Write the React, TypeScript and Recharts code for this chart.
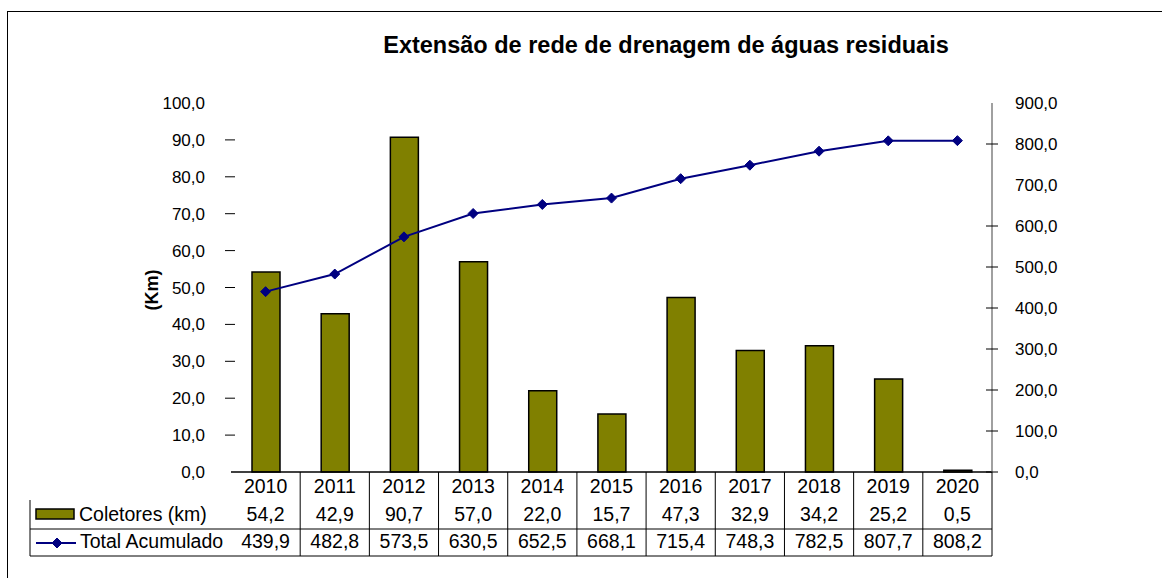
import React from "react";
import { ComposedChart, Bar, Line, XAxis, YAxis } from "recharts";

const years = ["2010", "2011", "2012", "2013", "2014", "2015", "2016", "2017", "2018", "2019", "2020"];
const coletores = [54.2, 42.9, 90.7, 57.0, 22.0, 15.7, 47.3, 32.9, 34.2, 25.2, 0.5];
const totalAcumulado = [439.9, 482.8, 573.5, 630.5, 652.5, 668.1, 715.4, 748.3, 782.5, 807.7, 808.2];
const leftTicks = [0, 10, 20, 30, 40, 50, 60, 70, 80, 90, 100];
const rightTicks = [0, 100, 200, 300, 400, 500, 600, 700, 800, 900];
const seriesNames = ["Coletores (km)", "Total Acumulado"];
const title = "Extensão de rede de drenagem de águas residuais";
const yLabel = "(Km)";

const data = years.map((y, i) => ({ year: y, coletores: coletores[i], total: totalAcumulado[i] }));

const W = 1162;
const H = 578;
const FONT = "'Liberation Sans', Arial, sans-serif";
const MARGIN = { top: 103, right: 70, bottom: 16, left: 171 };
const LEFT_AXIS_W = 60;
const RIGHT_AXIS_W = 100;
const PLOT_LEFT = MARGIN.left + LEFT_AXIS_W;
const PLOT_RIGHT = W - MARGIN.right - RIGHT_AXIS_W;
const PLOT_W = PLOT_RIGHT - PLOT_LEFT;
const TABLE_LEFT = 30;
const OLIVE = "#808000";
const NAVY = "#000080";
const TABLE_FS = 19.5;
const AXIS_FS = 17;

const fmt = (v: number) => v.toFixed(1).replace(".", ",");

const Diamond = ({ cx, cy, r = 5 }: any) =>
  cx == null || cy == null ? null : (
    <polygon
      points={`${cx},${cy - r} ${cx + r},${cy} ${cx},${cy + r} ${cx - r},${cy}`}
      fill={NAVY}
      stroke={NAVY}
    />
  );

const TableTick = (props: any) => {
  const { x, y, payload } = props;
  const i = payload.index;
  const n = years.length;
  const band = PLOT_W / n;
  const left = x - band / 2;
  const right = x + band / 2;
  const ts = { fontSize: TABLE_FS, fontFamily: FONT, fill: "#000", textAnchor: "middle" as const };
  return (
    <g>
      <text x={x} y={y + 21} {...ts}>{years[i]}</text>
      <text x={x} y={y + 49} {...ts}>{fmt(coletores[i])}</text>
      <text x={x} y={y + 76} {...ts}>{fmt(totalAcumulado[i])}</text>
      {i > 0 && <line x1={left} x2={left} y1={y} y2={y + 84} stroke="#000" strokeWidth={1} />}
      {i === n - 1 && <line x1={right} x2={right} y1={y} y2={y + 84} stroke="#000" strokeWidth={1} />}
      {i === 0 && (
        <g>
          <line x1={TABLE_LEFT} x2={PLOT_RIGHT} y1={y + 57} y2={y + 57} stroke="#000" />
          <line x1={TABLE_LEFT} x2={PLOT_RIGHT} y1={y + 84} y2={y + 84} stroke="#000" />
          <line x1={TABLE_LEFT} x2={TABLE_LEFT} y1={y + 28} y2={y + 84} stroke="#000" />
          <rect x={36} y={y + 37} width={38} height={10} fill={OLIVE} stroke="#000" strokeWidth={1.5} />
          <text x={79} y={y + 49} fontSize={TABLE_FS} fontFamily={FONT} fill="#000">{seriesNames[0]}</text>
          <line x1={36} x2={76} y1={y + 71} y2={y + 71} stroke={NAVY} strokeWidth={2} />
          <Diamond cx={57} cy={y + 71} r={5} />
          <text x={80} y={y + 76} fontSize={TABLE_FS} fontFamily={FONT} fill="#000">{seriesNames[1]}</text>
        </g>
      )}
    </g>
  );
};

const LeftTick = (props: any) => {
  const { x, y, payload } = props;
  const ax = x + 24;
  return (
    <g>
      <text x={x} y={y + 6} textAnchor="end" fontSize={AXIS_FS} fontFamily={FONT} fill="#000">{fmt(payload.value)}</text>
      {payload.value !== 0 && payload.value !== 100 && (
        <line x1={ax - 4} x2={ax + 6} y1={y} y2={y} stroke="#000" />
      )}
    </g>
  );
};

const RightTick = (props: any) => {
  const { x, y, payload } = props;
  const ax = x - 23;
  return (
    <g>
      <text x={x} y={y + 6} textAnchor="start" fontSize={AXIS_FS} fontFamily={FONT} fill="#000">{fmt(payload.value)}</text>
      {payload.value !== 900 && payload.value !== 700 && (
        <line x1={ax - 6} x2={ax + 6} y1={y} y2={y} stroke="#000" />
      )}
    </g>
  );
};

export default function App() {
  return (
    <div style={{ position: "absolute", left: 0, top: 0, width: W, height: H, background: "#fff" }}>
      <div style={{ position: "absolute", left: 7, top: 11, width: W - 7, height: H - 11, borderLeft: "1.5px solid #000", borderTop: "1.5px solid #000", boxSizing: "border-box" }} />
      <div style={{ position: "absolute", left: 0, top: 0 }}>
        <ComposedChart width={W} height={H} data={data} margin={MARGIN} barCategoryGap="60%">
          <text x={666} y={53} textAnchor="middle" fontSize={23.5} fontWeight="bold" fontFamily={FONT} fill="#000">{title}</text>
          <text x={0} y={0} transform={`translate(158, 290) rotate(-90)`} textAnchor="middle" fontSize={18} fontWeight="bold" fontFamily={FONT} fill="#000">{yLabel}</text>
          <XAxis dataKey="year" axisLine={{ stroke: "#000", strokeWidth: 1.5 }} tickLine={false} tickSize={0} tickMargin={0} height={90} tick={<TableTick />} interval={0} />
          <YAxis yAxisId="left" orientation="left" width={LEFT_AXIS_W} domain={[0, 100]} ticks={leftTicks} axisLine={false} tickLine={false} tickSize={0} tickMargin={26} tick={<LeftTick />} interval={0} />
          <YAxis yAxisId="right" orientation="right" width={RIGHT_AXIS_W} domain={[0, 900]} ticks={rightTicks} axisLine={{ stroke: "#808080", strokeWidth: 1.5 }} tickLine={false} tickSize={0} tickMargin={23} tick={<RightTick />} interval={0} />
          <Bar yAxisId="left" dataKey="coletores" fill={OLIVE} stroke="#000" strokeWidth={1.5} barSize={28} isAnimationActive={false} />
          <Line yAxisId="right" dataKey="total" stroke={NAVY} strokeWidth={2} dot={<Diamond r={5} />} activeDot={false} type="linear" isAnimationActive={false} />
        </ComposedChart>
      </div>
    </div>
  );
}
